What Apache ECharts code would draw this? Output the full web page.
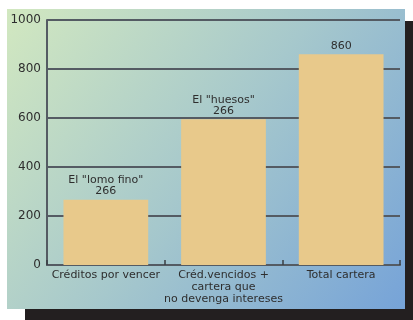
<!DOCTYPE html>
<html><head><meta charset="utf-8">
<script src="https://cdn.jsdelivr.net/npm/echarts@6/dist/echarts.min.js"></script>
<style>html,body{margin:0;padding:0;background:#fff}#c{width:413px;height:320px}</style>
</head><body><div id="c"></div>
<script>
var categories = ['Créditos por vencer', 'Créd.vencidos +\ncartera que\nno devenga intereses', 'Total cartera'];
var values = [266, 595, 860];
var labelNames = ['El "lomo fino"', 'El "huesos"', ''];
var labelValues = ['266', '266', '860'];
var yTicks = [0, 200, 400, 600, 800, 1000];

var FONT = 'DejaVu Sans';
var chart = echarts.init(document.getElementById('c'), null, {renderer: 'canvas'});
chart.setOption({
  animation: false,
  textStyle: {fontFamily: FONT},
  graphic: [
    {type: 'rect', z: -10, shape: {x: 25, y: 21, width: 388, height: 299}, style: {fill: '#231f20'}},
    {type: 'rect', z: -9, shape: {x: 7, y: 9, width: 398, height: 300},
     style: {fill: new echarts.graphic.LinearGradient(0, 0, 1, 1, [
       {offset: 0, color: '#d2e8c0'},
       {offset: 0.5, color: '#a6c8cc'},
       {offset: 1, color: '#76a3d8'}
     ])}}
  ],
  grid: {left: 47, right: 13, top: 20, bottom: 55, containLabel: false},
  xAxis: {
    type: 'category', data: categories,
    axisLine: {lineStyle: {color: '#545b63', width: 2}},
    axisTick: {show: true, inside: true, length: 5, lineStyle: {color: '#3a3f44', width: 1.5}},
    axisLabel: {color: '#2e2e2e', fontSize: 11, fontFamily: FONT, lineHeight: 12, margin: 4, interval: 0}
  },
  yAxis: {
    type: 'value', min: yTicks[0], max: yTicks[yTicks.length - 1], interval: 200,
    axisLine: {show: true, lineStyle: {color: '#545b63', width: 2}},
    axisTick: {show: false},
    splitLine: {lineStyle: {color: '#545b63', width: 2}},
    axisLabel: {color: '#2e2e2e', fontSize: 12, fontFamily: FONT, margin: 6, formatter: function (v) { return String(v); }}
  },
  series: [{
    type: 'bar', data: values, barCategoryGap: '28%',
    itemStyle: {color: '#e8c98b'},
    label: {
      show: true, position: 'top', distance: 3, color: '#2e2e2e', fontSize: 11, fontFamily: FONT, lineHeight: 11,
      formatter: function (p) {
        var n = labelNames[p.dataIndex];
        return (n ? n + '\n' : '') + labelValues[p.dataIndex];
      }
    }
  }]
});
</script></body></html>
